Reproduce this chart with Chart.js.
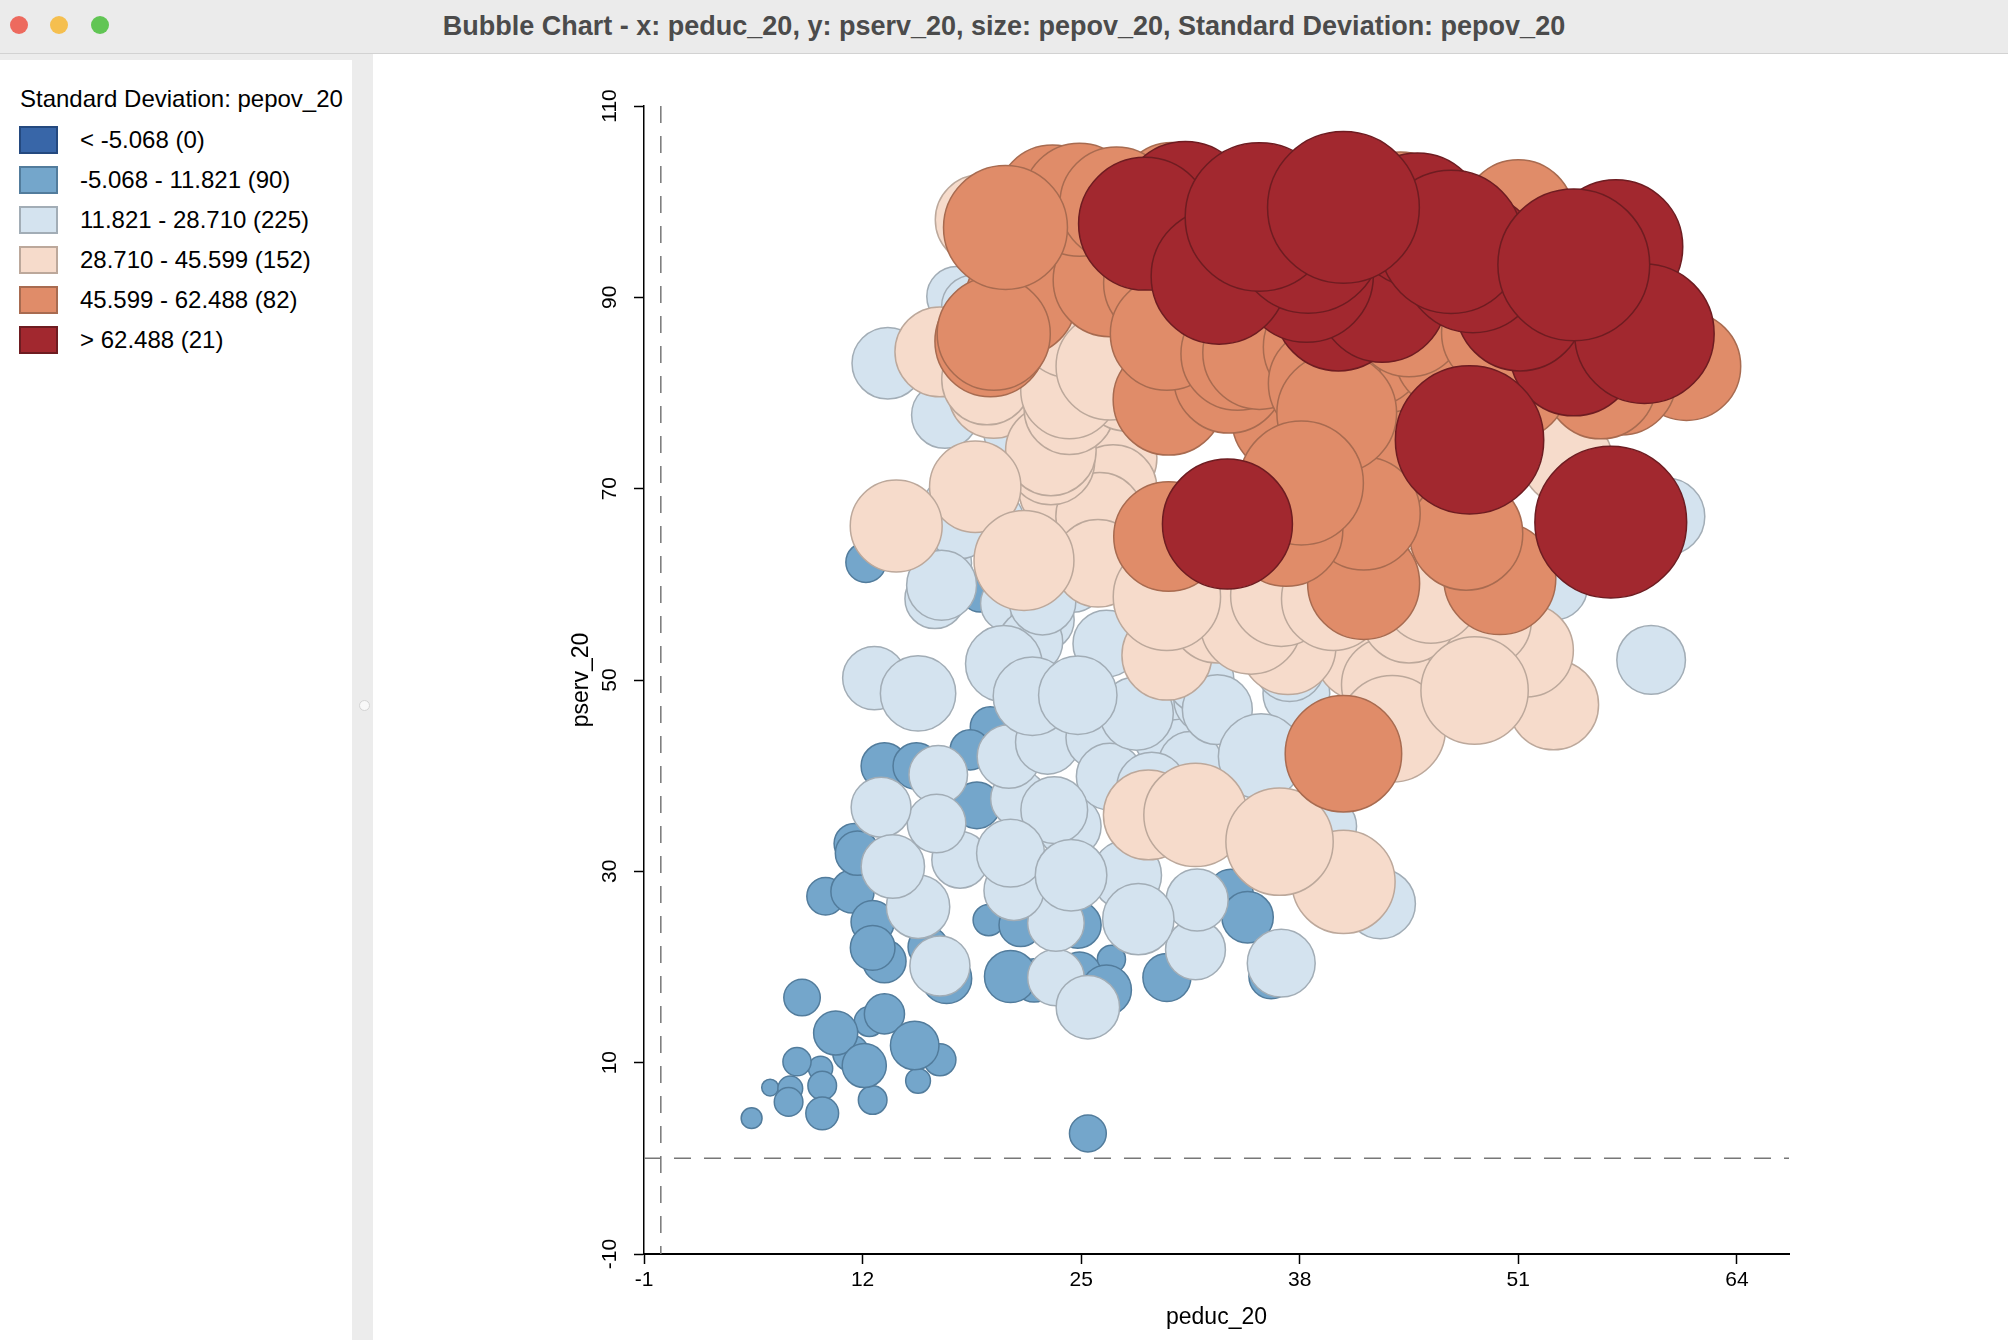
<!DOCTYPE html>
<html>
<head>
<meta charset="utf-8">
<title>Bubble Chart</title>
<script src="https://cdn.jsdelivr.net/npm/chart.js@4.4.1/dist/chart.umd.min.js"></script>
<style>
  html, body { margin: 0; padding: 0; width: 2008px; height: 1340px; overflow: hidden; background: #ececec;
               font-family: "Liberation Sans", Arial, sans-serif; }
  #titlebar { position: absolute; left: 0; top: 0; width: 2008px; height: 53px; background: #ebebeb; border-bottom: 1px solid #d2d2d2; }
  .light { position: absolute; top: 16px; width: 18px; height: 18px; border-radius: 50%; }
  #wintitle { position: absolute; left: 0; right: 0; top: 0; line-height: 52px; text-align: center;
              font-weight: bold; font-size: 27px; color: #4b4b4b; }
  #legend { position: absolute; left: 0; top: 60px; width: 352px; height: 1280px; background: #fff; }
  #legend .ttl { position: absolute; left: 20px; top: 25px; font-size: 24px; line-height: 28px; color: #000; white-space: nowrap; }
  #legend .box { position: absolute; left: 19px; width: 35px; height: 24px; border: 2px solid; }
  #legend .lab { position: absolute; left: 80px; font-size: 24px; line-height: 28px; color: #000; white-space: nowrap; }
  #grip { position: absolute; left: 359px; top: 700px; width: 9px; height: 9px; border-radius: 50%; background: #f8f8f8; border: 1px solid #d4d4d4; }
  #chartbox { position: absolute; left: 373px; top: 54px; width: 1635px; height: 1286px; background: #fff; }
</style>
</head>
<body>
<div id="titlebar">
  <div class="light" style="left:10px;background:#ed6a5e"></div>
  <div class="light" style="left:50px;background:#f5bf4f"></div>
  <div class="light" style="left:91px;background:#61c554"></div>
  <div id="wintitle">Bubble Chart - x: peduc_20, y: pserv_20, size: pepov_20, Standard Deviation: pepov_20</div>
</div>
<div id="legend"></div>
<div id="grip"></div>
<div id="chartbox"><canvas id="bubbles"></canvas></div>

<script>
// peduc_20 (x), pserv_20 (y), pepov_20 (bubble size), one entry per area
const peduc20 = [
  // pepov below 11.821
  5.4, 6.5, 7.7, 7.6, 8.1, 9.5, 9.6, 9.6, 8.4, 10.4, 11.3, 12.1, 12.4, 13.3, 15.1, 16.6, 15.3, 12.6, 25.4, 9.8,
  11.4, 12.6, 12.6, 13.3, 15.9, 17.0, 19.5, 21.4, 20.8, 22.2, 24.8, 24.9, 26.5, 26.8, 30.1, 12.2, 19.0, 19.6, 18.4, 13.3,
  15.2, 18.8, 11.5, 11.7, 33.9, 34.9, 36.3,
  // 11.821 - 28.710
  15.3, 16.6, 23.5, 23.5, 25.4, 31.8, 28.4, 31.9, 12.7, 15.3, 16.7, 16.3, 20.4, 22.1, 24.8, 22.7, 22.7, 24.5, 26.5, 28.3,
  20.7, 26.7, 29.2, 31.5, 16.5, 13.1, 16.4, 23.4, 21.3, 13.8, 17.8, 20.8, 21.0, 24.4, 27.7, 20.7, 30.4, 32.5, 58.9, 42.8,
  36.9, 35.7, 37.4, 33.1, 53.1, 59.8, 13.5, 16.9, 20.9, 17.6, 16.8, 17.4, 16.7, 27.7, 32.3, 36.9, 24.3, 18.6, 23.0, 26.0,
  30.0, 22.0, 32.1, 37.8, 39.6, 19.8, 17.8,
  // 28.710 - 45.599
  21.6, 30.1, 30.1, 29.0, 31.8, 14.0, 48.4, 53.1, 51.5, 43.5, 36.8, 40.6, 45.8, 40.0, 35.1, 41.7, 19.0, 16.6, 19.8, 24.3,
  26.7, 23.2, 26.9, 18.7, 23.9, 26.9, 26.1, 24.3, 27.1, 53.9, 36.9, 45.6, 27.7, 26.0, 33.1, 44.5, 49.0, 43.3, 37.3, 33.4,
  23.2, 24.3, 19.4,
  // 45.599 - 62.488
  20.5, 23.3, 21.4, 19.8, 19.6, 30.2, 30.2, 26.7, 29.7, 24.9, 27.1, 30.4, 30.1, 34.3, 40.6, 41.8, 49.9, 61.0, 57.1, 51.0,
  44.0, 38.1, 44.6, 47.9, 41.8, 37.2, 40.2, 37.2, 35.6, 39.2, 42.2, 47.0, 45.6, 43.5, 46.5, 39.5, 33.8, 41.4, 50.6, 46.8,
  55.9, 44.5, 49.8,
  // above 62.488
  28.8, 33.2, 35.6, 40.6, 38.5, 40.3, 42.9, 47.0, 48.3, 45.0, 54.3, 56.8, 58.5, 54.3, 48.1, 56.5, 33.7, 38.4, 31.2, 51.1
];
const pserv20 = [
  4.2, 7.4, 7.3, 5.9, 10.1, 9.4, 7.6, 4.7, 16.8, 13.1, 11.0, 9.7, 14.3, 15.1, 11.8, 10.3, 8.1, 6.1, 2.6, 27.4,
  27.9, 24.7, 22.0, 20.6, 22.1, 18.8, 24.9, 24.4, 19.0, 18.6, 24.4, 19.3, 17.6, 20.8, 18.9, 62.3, 59.2, 45.1, 42.7, 41.0,
  41.0, 36.9, 32.9, 31.9, 27.9, 25.2, 19.0,

  26.3, 20.1, 18.9, 24.6, 15.8, 21.8, 25.0, 27.0, 50.2, 48.6, 59.9, 58.5, 51.7, 48.3, 48.4, 58.2, 56.3, 60.4, 53.8, 46.5,
  42.0, 39.9, 38.8, 41.3, 40.1, 36.7, 35.0, 36.4, 37.6, 30.5, 31.2, 31.9, 28.0, 29.6, 29.6, 58.0, 49.3, 47.9, 52.1, 26.6,
  20.4, 42.0, 51.4, 46.9, 59.8, 67.1, 83.1, 77.7, 75.8, 90.1, 60.8, 68.2, 62.2, 46.1, 48.8, 52.8, 34.7, 89.0, 43.5, 44.0,
  44.0, 54.0, 50.0, 48.6, 34.7, 66.7, 66.0,

  62.5, 52.6, 58.7, 35.9, 35.9, 66.1, 48.9, 47.4, 53.1, 44.9, 33.1, 28.9, 59.0, 58.5, 55.9, 52.8, 98.1, 84.3, 80.0, 80.3,
  82.8, 74.0, 73.2, 70.2, 69.9, 70.0, 67.1, 86.9, 100.5, 73.0, 58.8, 58.2, 80.9, 62.2, 56.8, 56.8, 56.2, 49.5, 53.5, 59.5,
  72.9, 78.3, 81.4,

  97.3, 100.0, 89.7, 86.2, 85.4, 79.3, 65.0, 91.8, 91.5, 100.2, 99.8, 100.5, 86.2, 84.1, 42.3, 60.1, 60.6, 82.8, 81.4, 98.6,
  99.4, 70.6, 72.3, 65.3, 67.4, 65.7, 77.9, 77.2, 84.2, 84.8, 84.5, 84.1, 75.4, 98.0, 97.5, 81.0, 81.6, 83.6, 81.0, 80.3,
  81.0, 87.6, 86.3,

  97.7, 92.2, 98.4, 99.4, 96.0, 89.0, 89.9, 95.8, 93.6, 98.1, 93.4, 95.3, 86.2, 84.3, 75.1, 66.5, 66.3, 92.3, 99.5, 89.0
];
const pepov20 = [
  1.7, 1.1, 2.4, 3.2, 3.1, 2.3, 3.2, 4.2, 5.2, 7.6, 5.1, 7.6, 3.5, 6.3, 9.2, 4.0, 2.4, 3.2, 5.3, 5.5,
  7.3, 7.3, 7.8, 7.3, 6.3, 9.8, 3.8, 7.3, 10.6, 7.3, 8.5, 7.3, 9.8, 3.1, 9.0, 6.3, 6.3, 6.3, 6.3, 8.5,
  8.5, 8.5, 6.3, 7.7, 7.7, 10.3, 7.7,

  15.7, 14.1, 12.5, 12.5, 15.7, 14.0, 19.9, 15.0, 15.7, 22.2, 19.1, 14.0, 22.9, 24.0, 24.0, 17.4, 15.7, 15.7, 17.4, 21.0,
  15.7, 17.4, 19.1, 15.7, 13.4, 14.0, 13.4, 17.4, 12.5, 15.7, 12.5, 18.0, 14.0, 20.0, 19.1, 12.5, 17.4, 17.4, 18.4, 19.1,
  18.0, 28.5, 19.1, 19.1, 18.0, 23.2, 20.0, 17.4, 12.5, 14.0, 14.0, 14.0, 14.0, 14.0, 14.0, 12.5, 15.7, 16.0, 16.0, 16.0,
  15.0, 16.0, 17.4, 17.4, 14.0, 14.0, 15.7,

  39, 31.6, 45, 31.6, 41.7, 33, 45, 31.6, 34, 44.4, 45, 41.7, 38, 42, 40, 35, 31.6, 31.6, 32, 37,
  45, 32, 30, 32.6, 30, 30, 30, 40, 36, 32, 40, 30, 34, 30, 36, 36, 34, 35, 36, 36,
  30, 32, 32,

  60, 50, 48, 50, 48, 48, 47, 50, 50, 50, 50, 46, 50, 50, 53, 49, 49, 46, 48, 48,
  48, 60, 50, 50, 50, 50, 56, 46, 50, 50, 50, 50, 46, 48, 48, 50, 48, 48, 50, 48,
  48, 50, 50,

  69, 72, 86, 90, 84, 64, 64, 80, 76, 70, 90, 70, 76, 64, 86, 90, 66, 70, 66, 64
];

// standard deviation classes of pepov_20
const breaks = [-5.068, 11.821, 28.710, 45.599, 62.488];
const classLabels = ['< -5.068 (0)', '-5.068 - 11.821 (90)', '11.821 - 28.710 (225)',
                     '28.710 - 45.599 (152)', '45.599 - 62.488 (82)', '> 62.488 (21)'];
const classFill = ['#3866a8', '#74a6cb', '#d4e3ef', '#f6dbcb', '#e08c69', '#a2282f'];
const classLine = ['#24497f', '#527c9c', '#a2adb6', '#bca89b', '#a86b50', '#6e1c21'];

const xTicks = [-1, 12, 25, 38, 51, 64];
const yTicks = [-10, 10, 30, 50, 70, 90, 110];

// legend panel
const legend = document.getElementById('legend');
legend.innerHTML = '<div class="ttl">Standard Deviation: pepov_20</div>' +
  classLabels.map((t, i) =>
    `<div class="box" style="top:${66 + 40 * i}px;background:${classFill[i]};border-color:${classLine[i]}"></div>` +
    `<div class="lab" style="top:${66 + 40 * i}px">${t}</div>`).join('');

function classOf(v) {
  return breaks.filter(b => v > b).length;
}

const datasets = classLabels.map((label, k) => {
  const idx = pepov20.map((v, i) => i).filter(i => classOf(pepov20[i]) === k);
  idx.sort((a, b) => pepov20[a] - pepov20[b]);
  return {
    label: label,
    data: idx.map(i => ({ x: peduc20[i], y: pserv20[i], r: 8 * Math.sqrt(pepov20[i]) })),
    backgroundColor: classFill[k],
    borderColor: classLine[k],
    borderWidth: 1.5,
    order: 5 - k,
    clip: false
  };
});

// dashed lines through x = 0 and y = 0
const zeroLines = {
  id: 'zeroLines',
  beforeDatasetsDraw(chart) {
    const { ctx, chartArea: a, scales: { x, y } } = chart;
    const px = x.getPixelForValue(0);
    const py = y.getPixelForValue(0);
    ctx.save();
    ctx.strokeStyle = '#777777';
    ctx.lineWidth = 1.5;
    ctx.setLineDash([17, 13]);
    ctx.beginPath();
    ctx.moveTo(px, a.top);
    ctx.lineTo(px, a.bottom);
    ctx.moveTo(a.left, py);
    ctx.lineTo(a.right, py);
    ctx.stroke();
    ctx.restore();
  }
};

const fontFamily = "'Liberation Sans', Arial, sans-serif";

new Chart(document.getElementById('bubbles'), {
  type: 'bubble',
  data: { datasets: datasets },
  options: {
    responsive: true,
    maintainAspectRatio: false,
    animation: false,
    events: [],
    layout: { autoPadding: false, padding: { left: 195, top: 52, right: 219, bottom: 9 } },
    plugins: {
      legend: { display: false },
      tooltip: { enabled: false }
    },
    scales: {
      x: {
        type: 'linear',
        min: -1,
        max: 67.1,
        afterBuildTicks: s => { s.ticks = xTicks.map(v => ({ value: v })); },
        afterFit: s => { s.height = 77; s.paddingLeft = 0; s.paddingRight = 0; },
        grid: { drawOnChartArea: false, tickLength: 10, tickColor: '#000', tickWidth: 1.5 },
        border: { color: '#000', width: 2 },
        ticks: { color: '#000', font: { family: fontFamily, size: 21 }, padding: 4, maxRotation: 0, autoSkip: false },
        title: { display: true, text: 'peduc_20', color: '#000', font: { family: fontFamily, size: 23 }, padding: 0 }
      },
      y: {
        type: 'linear',
        min: -10,
        max: 110,
        afterBuildTicks: s => { s.ticks = yTicks.map(v => ({ value: v })); },
        afterFit: s => { s.width = 76; s.paddingTop = 0; s.paddingBottom = 0; },
        grid: { drawOnChartArea: false, tickLength: 10, tickColor: '#000', tickWidth: 1.5 },
        border: { color: '#000', width: 1.5 },
        ticks: { color: '#000', font: { family: fontFamily, size: 21 }, padding: 7,
                 minRotation: 90, maxRotation: 90, crossAlign: 'center', autoSkip: false },
        title: { display: true, text: 'pserv_20', color: '#000', font: { family: fontFamily, size: 23 }, padding: 0 }
      }
    }
  },
  plugins: [zeroLines]
});
</script>
</body>
</html>
